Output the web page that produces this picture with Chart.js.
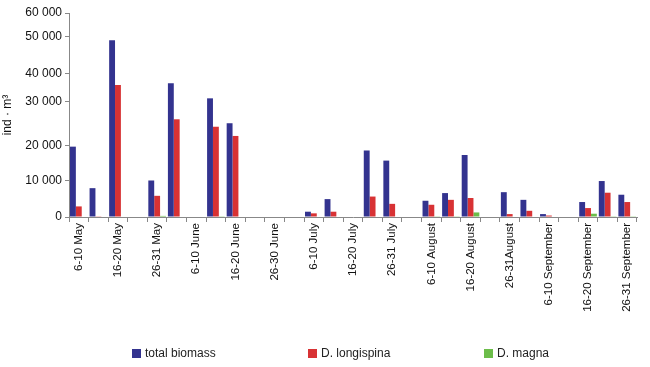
<!DOCTYPE html>
<html lang="en">
<head>
    <meta charset="UTF-8">
    <title>biomass chart</title>
    <style>
        body { margin: 0; background: #fff; }
    </style>
</head>
<body>
    <canvas id="biomassChart" width="650" height="367"></canvas>

<script src="https://cdn.jsdelivr.net/npm/chart.js"></script>
<script>
    // ten-day periods, only every other one carries a label
    const periods = [
        '6-10 May', '', '16-20 May', '', '26-31 May', '',
        '6-10 June', '', '16-20 June', '', '26-30 June', '',
        '6-10 July', '', '16-20 July', '', '26-31 July', '',
        '6-10 August', '', '16-20 August', '', '26-31August', '',
        '6-10 September', '', '16-20 September', '', '26-31 September'
    ];
    const totalBiomass = [19700, 7900, 49100, 0, 10000, 36500, 0, 31200, 25100, 0, 0, 0, 1450, 4900, 0,
                          18600, 15700, 0, 4450, 6550, 17300, 0, 6800, 4700, 800, 0, 4100, 9850, 6100];
    const longispina   = [2900, 200, 35900, 0, 5800, 26000, 0, 24300, 22200, 0, 0, 0, 1000, 1450, 0,
                          5600, 3600, 0, 3350, 4700, 5200, 0, 800, 1700, 400, 0, 2450, 6650, 4100];
    const magna        = [0, 0, 0, 0, 300, 0, 0, 200, 0, 0, 0, 0, 0, 0, 0,
                          0, 0, 0, 200, 200, 1250, 0, 0, 0, 0, 0, 900, 200, 200];
    const yTicks = [0, 10000, 20000, 30000, 40000, 50000, 60000];

    // the original y axis is not evenly spaced, so map each tick to its own height
    const tickHeights = [0, 0.179, 0.350, 0.565, 0.704, 0.883, 1];

    function warp(v) {
        if (v <= yTicks[0]) return 0;
        for (let i = 1; i < yTicks.length; i++) {
            if (v <= yTicks[i]) {
                const f = (v - yTicks[i - 1]) / (yTicks[i] - yTicks[i - 1]);
                return tickHeights[i - 1] + f * (tickHeights[i] - tickHeights[i - 1]);
            }
        }
        return 1;
    }
    function unwarp(d) {
        for (let i = 1; i < tickHeights.length; i++) {
            if (d <= tickHeights[i]) {
                const f = (d - tickHeights[i - 1]) / (tickHeights[i] - tickHeights[i - 1]);
                return yTicks[i - 1] + f * (yTicks[i] - yTicks[i - 1]);
            }
        }
        return yTicks[yTicks.length - 1];
    }

    class WarpedScale extends Chart.LinearScale {
        getPixelForValue(value) {
            if (value === null || isNaN(value)) return NaN;
            return this.getPixelForDecimal(warp(value));
        }
        getValueForPixel(pixel) {
            return unwarp(this.getDecimalForPixel(pixel));
        }
    }
    WarpedScale.id = 'warped';
    WarpedScale.defaults = Chart.LinearScale.defaults;
    Chart.register(WarpedScale);

    const fontFamily = '"Liberation Sans", Arial, sans-serif';

    // legend spread out under the plot like in the original figure
    const spreadLegend = {
        id: 'spreadLegend',
        afterDraw(chart) {
            const ctx = chart.ctx;
            ctx.save();
            ctx.font = '12px ' + fontFamily;
            ctx.textBaseline = 'middle';
            chart.data.datasets.forEach((ds, i) => {
                const x = 132 + i * 176;
                ctx.fillStyle = ds.backgroundColor;
                ctx.fillRect(x, 349, 9, 9);
                ctx.fillStyle = '#222';
                ctx.fillText(ds.label, x + 13, 354);
            });
            ctx.restore();
        }
    };

    const ctx = document.getElementById('biomassChart');
    new Chart(ctx, {
        type: 'bar',
        data: {
            labels: periods,
            datasets: [
                { label: 'total biomass', data: totalBiomass, backgroundColor: '#33338f' },
                { label: 'D. longispina', data: longispina, backgroundColor: '#d83234' },
                { label: 'D. magna', data: magna, backgroundColor: '#6cbd4a' }
            ]
        },
        options: {
            responsive: false,
            animation: false,
            devicePixelRatio: 1,
            layout: { padding: { left: 0, right: 13, top: 13, bottom: 0 } },
            datasets: { bar: { categoryPercentage: 0.9, barPercentage: 1.0 } },
            plugins: {
                legend: { display: false },
                tooltip: { enabled: false }
            },
            scales: {
                x: {
                    grid: { offset: true, drawOnChartArea: false, tickLength: 5, color: '#888' },
                    border: { color: '#888' },
                    ticks: {
                        autoSkip: false, minRotation: 90, maxRotation: 90, padding: 1,
                        color: '#111', font: { family: fontFamily, size: 11.5 }
                    },
                    afterFit(scale) { scale.height = 150; }
                },
                y: {
                    type: 'warped',
                    min: 0,
                    max: 60000,
                    grid: { drawOnChartArea: false, tickLength: 4, color: '#888' },
                    border: { color: '#888' },
                    ticks: {
                        stepSize: 10000, padding: 3, color: '#111',
                        font: { family: fontFamily, size: 12 },
                        callback: v => v === 0 ? '0' : (v / 1000) + ' 000'
                    },
                    title: {
                        display: true, text: 'ind · m³', color: '#111',
                        font: { family: fontFamily, size: 12 },
                        padding: { top: 0, bottom: 2 }
                    },
                    afterFit(scale) { scale.width = 69; }
                }
            }
        },
        plugins: [spreadLegend]
    });
</script>
</body>
</html>
